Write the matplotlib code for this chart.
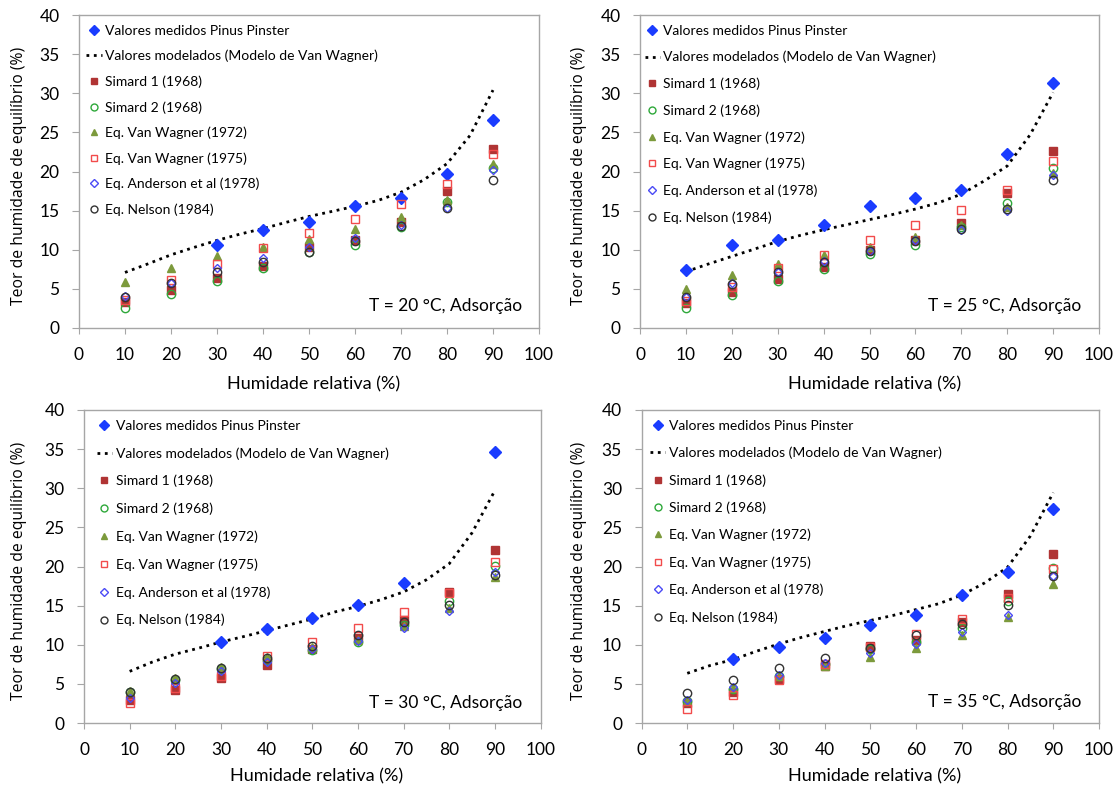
import numpy as np
import matplotlib
matplotlib.use("Agg")
import matplotlib.pyplot as plt
from matplotlib.lines import Line2D

plt.rcParams['font.family'] = ['Lato', 'DejaVu Sans']

# ---------------- data ----------------
rh = [10, 20, 30, 40, 50, 60, 70, 80, 90]
rh_model = [10, 15, 20, 25, 30, 35, 40, 45, 50, 55, 60, 65, 70, 75, 80, 85, 90]
nan = float('nan')

titles = ["T = 20 °C, Adsorção", "T = 25 °C, Adsorção",
          "T = 30 °C, Adsorção", "T = 35 °C, Adsorção"]

measured = [
    [nan, nan, 10.55, 12.5, 13.5, 15.55, 16.6, 19.7, 26.6],
    [7.35, 10.6, 11.3, 13.1, 15.65, 16.6, 17.65, 22.3, 31.3],
    [nan, nan, 10.4, 12.05, 13.4, 15.05, 17.9, nan, 34.6],
    [nan, 8.15, 9.7, 10.85, 12.55, 13.75, 16.3, 19.3, 27.3],
]
model = [
    [7.1, 8.2, 9.35, 10.3, 11.2, 12.0, 12.7, 13.5, 14.25, 14.9, 15.55, 16.3, 17.35, 18.95, 21.0, 24.6, 30.4],
    [7.2, 8.2, 9.15, 10.1, 11.05, 11.85, 12.55, 13.2, 13.85, 14.5, 15.2, 16.0, 17.1, 18.8, 20.7, 24.7, 30.1],
    [6.6, 7.8, 8.8, 9.55, 10.35, 11.05, 11.8, 12.55, 13.3, 14.2, 14.9, 15.75, 16.75, 18.3, 20.35, 24.3, 29.7],
    [6.35, 7.35, 8.1, 9.15, 10.1, 10.95, 11.7, 12.45, 13.1, 13.75, 14.5, 15.25, 16.35, 17.9, 19.9, 23.9, 29.45],
]
simard1 = [
    [3.3, 4.9, 6.45, 7.95, 10.3, 11.3, 13.6, 17.5, 22.9],
    [3.15, 4.55, 6.25, 7.8, 10.0, 11.3, 13.4, 17.2, 22.6],
    [2.95, 4.2, 5.8, 7.45, 9.4, 10.85, 13.1, 16.75, 22.1],
    [2.5, 3.95, 5.65, 7.25, 9.8, 10.65, 12.9, 16.5, 21.65],
]
simard2 = [
    [2.5, 4.35, 6.05, 7.65, 9.7, 10.65, 12.9, 16.1, 20.5],
    [2.5, 4.25, 5.95, 7.55, 9.5, 10.65, 12.95, 16.0, 20.4],
    [3.95, 5.5, 6.9, 8.1, 9.3, 10.35, 12.55, 15.65, 20.05],
    [2.75, 4.4, 5.95, 7.55, 9.4, 10.35, 12.2, 15.55, 19.8],
]
vw1972 = [
    [5.85, 7.7, 9.15, 10.3, 11.4, 12.7, 14.2, 16.4, 20.9],
    [4.95, 6.8, 8.2, 9.3, 10.4, 11.6, 13.2, 15.4, 19.75],
    [4.1, 5.8, 7.15, 8.4, 9.7, 10.6, 12.35, 14.7, 18.7],
    [2.8, 4.45, 6.05, 7.25, 8.4, 9.6, 11.2, 13.5, 17.8],
]
vw1975 = [
    [3.6, 6.15, 8.2, 10.2, 12.1, 13.9, 15.9, 18.4, 22.3],
    [3.4, 5.3, 7.65, 9.35, 11.3, 13.1, 15.05, 17.6, 21.4],
    [2.5, 4.45, 6.05, 8.5, 10.4, 12.2, 14.15, 16.6, 20.55],
    [1.8, 3.6, 5.5, 7.5, 9.7, 11.35, 13.35, 16.0, 19.7],
]
anderson = [
    [4.1, 5.8, 7.65, 8.9, 10.3, 11.5, 13.1, 15.3, 20.2],
    [4.0, 5.8, 7.2, 8.5, 9.9, 11.2, 12.55, 14.9, 19.6],
    [3.25, 5.1, 6.6, 7.85, 9.5, 10.5, 12.1, 14.35, 19.3],
    [2.95, 4.55, 6.15, 7.65, 8.95, 10.1, 11.6, 13.85, 18.75],
]
nelson = [
    [4.0, 5.8, 7.1, 8.4, 9.7, 11.1, 13.0, 15.3, 18.9],
    [3.9, 5.65, 7.1, 8.4, 9.8, 11.1, 12.7, 15.2, 18.9],
    [4.0, 5.65, 7.0, 8.25, 9.8, 11.3, 12.9, 15.1, 18.85],
    [3.8, 5.5, 7.0, 8.3, 9.6, 11.3, 12.7, 15.05, 18.75],
]

legend_labels = ["Valores medidos Pinus Pinster",
                 "Valores modelados (Modelo de Van Wagner)",
                 "Simard 1 (1968)", "Simard 2 (1968)",
                 "Eq. Van Wagner (1972)", "Eq. Van Wagner (1975)",
                 "Eq. Anderson et al (1978)", "Eq. Nelson (1984)"]

xlabel = "Humidade relativa (%)"
ylabel = "Teor de humidade de equilíbrio (%)"

# ---------------- layout ----------------
W, H = 1120, 788
fig = plt.figure(figsize=(W / 100, H / 100), dpi=100)

# (left px, right px, top px, bottom px)
boxes = [(79, 539, 15, 328), (640, 1099, 15, 328),
         (84, 540.5, 410, 723), (641.5, 1099, 410, 723)]
leg_x = [0.016, 0.010, 0.028, 0.019]
leg_spacing = [0.94, 1.02, 1.1, 1.07]
title_x = [0.963, 0.962, 0.959, 0.962]
title_y = [0.07, 0.07, 0.065, 0.068]
xlab_y = [-0.153, -0.153, -0.145, -0.145]
ylab_x = [-0.113, -0.115, -0.125, -0.119]

spine_col = '#A6A6A6'
c_meas = '#1A3CFF'
c_s1 = '#B03434'
c_s2 = '#2EA83A'
c_vw72 = '#7C9A3C'
c_vw75 = '#F24B4B'
c_and = '#4A4AF5'
c_nel = '#333333'

for i, (l, r, t, b) in enumerate(boxes):
    ax = fig.add_axes([l / W, 1 - b / H, (r - l) / W, (b - t) / H])
    ax.plot(rh, measured[i], linestyle='none', marker='D', ms=6.5,
            color=c_meas, mec=c_meas, zorder=3)
    ax.plot(rh_model, model[i], linestyle=':', color='black', lw=2.0,
            zorder=2)
    ax.plot(rh, simard1[i], linestyle='none', marker='s', ms=5.5,
            color=c_s1, mec=c_s1, zorder=3)
    ax.plot(rh, simard2[i], linestyle='none', marker='o', ms=6,
            mfc='none', mec=c_s2, mew=1.0, zorder=3)
    ax.plot(rh, vw1972[i], linestyle='none', marker='^', ms=6,
            color=c_vw72, mec=c_vw72, zorder=3)
    ax.plot(rh, vw1975[i], linestyle='none', marker='s', ms=6,
            mfc='none', mec=c_vw75, mew=1.0, zorder=3)
    ax.plot(rh, anderson[i], linestyle='none', marker='D', ms=4.5,
            mfc='none', mec=c_and, mew=1.0, zorder=3)
    ax.plot(rh, nelson[i], linestyle='none', marker='o', ms=6,
            mfc='none', mec=c_nel, mew=1.0, zorder=3)

    ax.set_xlim(0, 100)
    ax.set_ylim(0, 40)
    ax.set_xticks(np.arange(0, 101, 10))
    ax.set_yticks(np.arange(0, 41, 5))
    for s in ax.spines.values():
        s.set_color(spine_col)
        s.set_linewidth(1.0)
    ax.tick_params(axis='both', direction='out', color=spine_col,
                   labelsize=12.5, labelcolor='black')
    ax.tick_params(axis='x', length=4, pad=10)
    ax.tick_params(axis='y', length=5, pad=9)
    ax.set_xlabel(xlabel, fontsize=13)
    ax.set_ylabel(ylabel, fontsize=11.3, family=['Open Sans', 'DejaVu Sans'])
    ax.xaxis.set_label_coords(0.51, xlab_y[i])
    ax.yaxis.set_label_coords(ylab_x[i], 0.486)

    ax.text(title_x[i], title_y[i], titles[i], transform=ax.transAxes,
            ha='right', va='center', fontsize=12.5)

    handles = [
        Line2D([], [], linestyle='none', marker='D', ms=5, color=c_meas),
        Line2D([], [], linestyle=':', color='black', lw=2.0),
        Line2D([], [], linestyle='none', marker='s', ms=4.5, color=c_s1),
        Line2D([], [], linestyle='none', marker='o', ms=5, mfc='none',
               mec=c_s2),
        Line2D([], [], linestyle='none', marker='^', ms=5, color=c_vw72),
        Line2D([], [], linestyle='none', marker='s', ms=5, mfc='none',
               mec=c_vw75),
        Line2D([], [], linestyle='none', marker='D', ms=4, mfc='none',
               mec=c_and),
        Line2D([], [], linestyle='none', marker='o', ms=5, mfc='none',
               mec=c_nel),
    ]
    ax.legend(handles, legend_labels, loc='upper left',
              bbox_to_anchor=(leg_x[i], 0.969), frameon=False,
              fontsize=10, handlelength=1.1, handletextpad=0.25,
              labelspacing=leg_spacing[i], borderpad=0, borderaxespad=0)

fig.savefig("out.png", dpi=100)
